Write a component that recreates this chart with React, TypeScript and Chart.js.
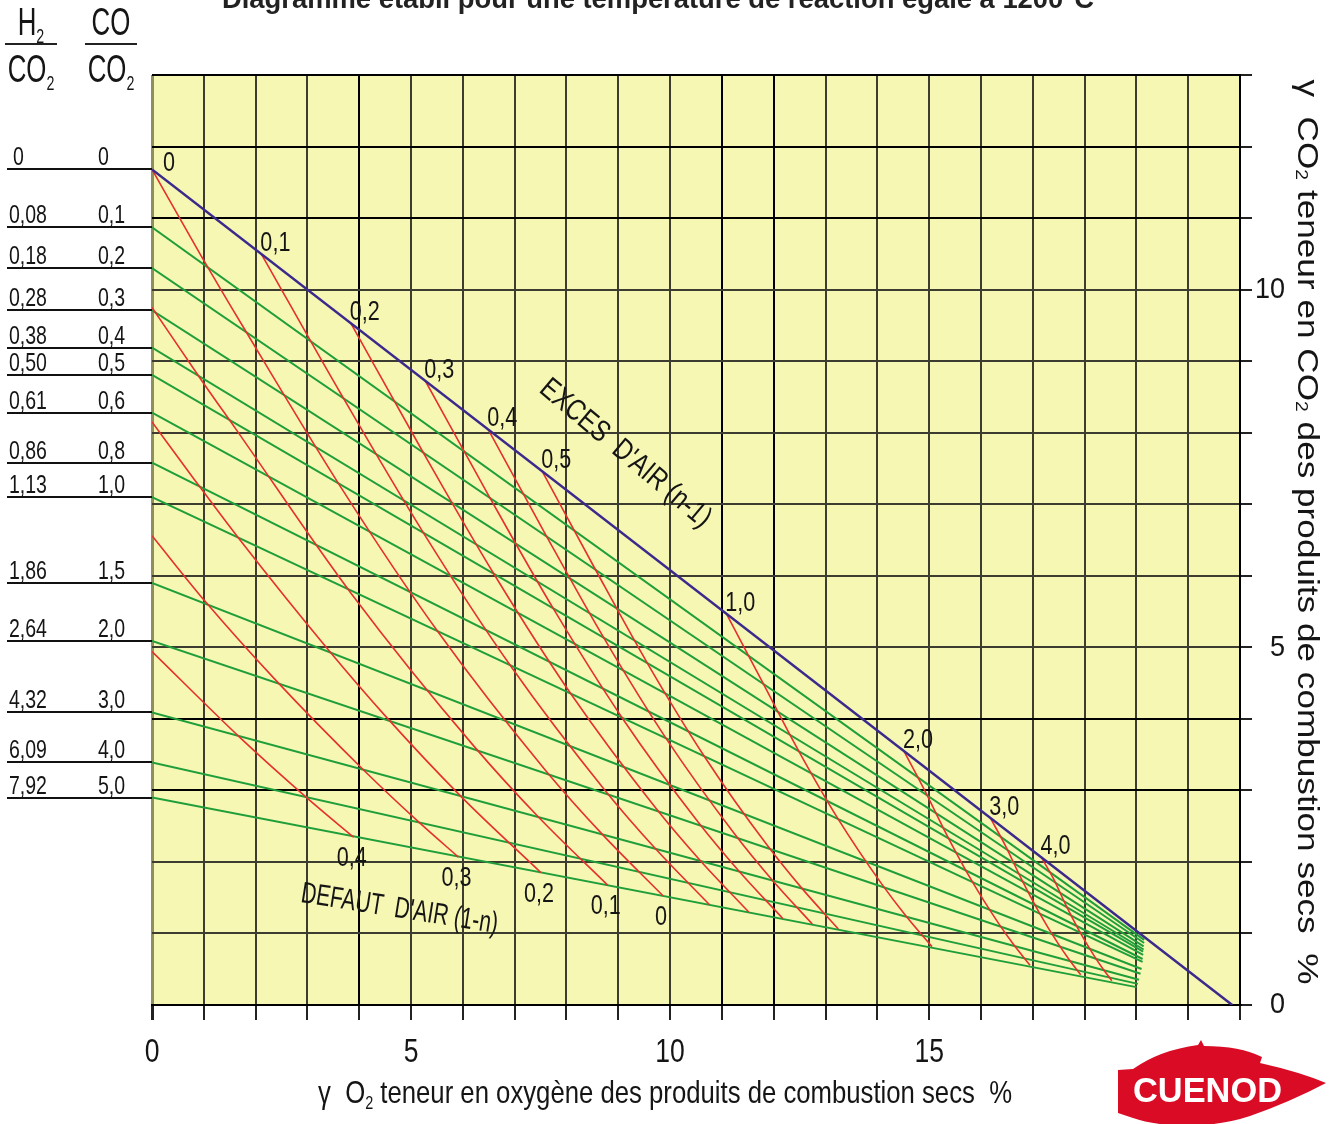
import React, { useEffect, useRef } from "react";
import { Chart, registerables } from "chart.js";

Chart.register(...registerables);

// ---------------- axes ----------------
const xMin = 0;
const xMax = 21;
const yMin = 0;
const yMax = 13;
const xTickLabels = [0, 5, 10, 15];
const yTickLabels = [0, 5, 10];
const darkGridX = [4, 11, 12, 21];
const darkGridY = [0, 3, 4, 11, 12, 13];

// ---------------- iso CO/CO2 ratio lines (index 0 = excess-air line) ----------------
const coCo2Labels = ["0", "0,1", "0,2", "0,3", "0,4", "0,5", "0,6", "0,8", "1,0", "1,5", "2,0", "3,0", "4,0", "5,0"];
const h2Co2Labels = ["0", "0,08", "0,18", "0,28", "0,38", "0,50", "0,61", "0,86", "1,13", "1,86", "2,64", "4,32", "6,09", "7,92"];
const co2AtZeroO2 = [11.68, 10.87, 10.3, 9.71, 9.19, 8.81, 8.28, 7.58, 7.1, 5.9, 5.09, 4.09, 3.39, 2.9];
const ratioEndO2 = [20.85, 19.15, 19.15, 19.14, 19.14, 19.13, 19.13, 19.12, 19.12, 19.1, 19.08, 19.05, 19.03, 19.0];
const ratioEndCO2 = [0, 0.91, 0.866, 0.82, 0.776, 0.745, 0.702, 0.643, 0.602, 0.503, 0.436, 0.352, 0.295, 0.25];

// ---------------- excess air (n-1) red lines ----------------
const excessLabels = ["0,1", "0,2", "0,3", "0,4", "0,5", "1,0", "2,0", "3,0", "4,0"];
const excessO2 = [
  [2.111, 3.664, 5.26, 6.93, 8.749, 9.724, 10.757],
  [3.837, 5.202, 6.612, 8.094, 9.715, 10.589, 11.518],
  [5.274, 6.49, 7.75, 9.079, 10.54, 11.331, 12.174],
  [6.489, 7.584, 8.721, 9.925, 11.253, 11.974, 12.745],
  [7.53, 8.524, 9.56, 10.659, 11.875, 12.537, 13.247],
  [11.086, 11.763, 12.473, 13.233, 14.083, 14.549, 15.055],
  [14.514, 14.921, 15.352, 15.816, 16.34, 16.63, 16.947],
  [16.181, 16.471, 16.778, 17.111, 17.487, 17.697, 17.926],
  [17.167, 17.392, 17.63, 17.889, 18.182, 18.346, 18.525],
];
const excessCO2 = [
  [10.497, 8.52, 6.576, 4.731, 2.996, 2.18, 1.404],
  [9.531, 7.765, 6.011, 4.34, 2.76, 2.013, 1.3],
  [8.726, 7.132, 5.536, 4.009, 2.558, 1.87, 1.21],
  [8.045, 6.594, 5.131, 3.724, 2.384, 1.745, 1.132],
  [7.462, 6.133, 4.78, 3.478, 2.232, 1.637, 1.063],
  [5.47, 4.542, 3.564, 2.613, 1.693, 1.248, 0.816],
  [3.549, 2.99, 2.362, 1.745, 1.141, 0.846, 0.556],
  [2.615, 2.229, 1.766, 1.31, 0.861, 0.64, 0.422],
  [2.063, 1.776, 1.41, 1.048, 0.691, 0.514, 0.34],
];

// ---------------- defect of air (1-n) red lines ----------------
const defectLabels = ["0", "0,1", "0,2", "0,3", "0,4"];
const defectO2 = [
  [0, 0.943, 1.793, 3.628, 5.537, 7.601, 8.702, 9.863],
  [0, 0.968, 1.619, 3.837, 6.217, 7.477, 8.798],
  [0, 0.809, 1.718, 3.386, 4.515, 5.981, 7.508],
  [0, 1.017, 2.369, 4.113, 5.183, 5.914],
  [0, 1.715, 3.012, 3.892],
];
const defectCO2 = [
  [11.68, 10.48, 9.439, 7.257, 5.199, 3.276, 2.378, 1.527],
  [9.75, 8.72, 8.05, 5.76, 3.615, 2.614, 1.673],
  [8.15, 7.354, 6.482, 4.98, 4.031, 2.903, 1.849],
  [6.56, 5.65, 4.555, 3.264, 2.535, 2.068],
  [4.94, 3.727, 2.882, 2.345],
];

// ---------------- texts ----------------
const titleText = "Diagramme établi pour une température de réaction égale à 1200°C";
const xTitle = "γ  O_2 teneur en oxygène des produits de combustion secs  %";
const yTitle = "γ  CO_2 teneur en CO_2 des produits de combustion secs  %";
const excesText = "EXCES  D'AIR (n-1)";
const defautText = "DEFAUT  D'AIR (1-n)";
const excesAnchor = { x: 7.45, y: 8.58 };
const defautAnchor = { x: 2.857, y: 1.44 };

const COND = "'Liberation Sans', Arial, sans-serif";

type TOpts = {
  sx?: number;
  align?: "left" | "center" | "right";
  baseline?: CanvasTextBaseline;
  bold?: boolean;
  color?: string;
  rot?: number;
  fitWidth?: number;
};

function drawRich(ctx: CanvasRenderingContext2D, text: string, x: number, y: number, size: number, o: TOpts = {}) {
  const { sx = 1, align = "left", baseline = "alphabetic", bold = false, color = "#151515", rot = 0, fitWidth } = o;
  const parts = text.split(/_(\d)/);
  ctx.save();
  ctx.translate(x, y);
  if (rot) ctx.rotate(rot);
  const mainFont = `${bold ? "bold " : ""}${size}px ${COND}`;
  const subFont = `${bold ? "bold " : ""}${Math.round(size * 0.55)}px ${COND}`;
  ctx.textBaseline = baseline;
  ctx.textAlign = "left";
  let w = 0;
  parts.forEach((p, i) => {
    ctx.font = i % 2 ? subFont : mainFont;
    w += ctx.measureText(p).width;
  });
  const scaleX = fitWidth ? fitWidth / w : sx;
  ctx.scale(scaleX, 1);
  let cx = align === "center" ? -w / 2 : align === "right" ? -w : 0;
  ctx.fillStyle = color;
  parts.forEach((p, i) => {
    ctx.font = i % 2 ? subFont : mainFont;
    ctx.fillText(p, cx, i % 2 ? size * 0.2 : 0);
    cx += ctx.measureText(p).width;
  });
  ctx.restore();
}

const decoPlugin = {
  id: "deco",
  beforeDraw(chart: any) {
    const { ctx, chartArea: a } = chart;
    ctx.save();
    ctx.fillStyle = "#f7f7b4";
    ctx.fillRect(a.left, a.top, a.right - a.left, a.bottom - a.top);
    ctx.restore();
  },
  afterDraw(chart: any) {
    const ctx: CanvasRenderingContext2D = chart.ctx;
    const a = chart.chartArea;
    const xs = chart.scales.x;
    const ys = chart.scales.y;
    const px = (v: number) => xs.getPixelForValue(v);
    const py = (v: number) => ys.getPixelForValue(v);

    // cut title (only its lower part is visible)
    drawRich(ctx, titleText, 222, 8, 27, { bold: true, fitWidth: 872, color: "#222" });

    // left header fractions
    drawRich(ctx, "H_2", 31, 35, 38, { sx: 0.68, align: "center" });
    drawRich(ctx, "CO_2", 31, 82, 38, { sx: 0.68, align: "center" });
    drawRich(ctx, "CO", 111, 35, 38, { sx: 0.68, align: "center" });
    drawRich(ctx, "CO_2", 111, 82, 38, { sx: 0.68, align: "center" });
    ctx.save();
    ctx.strokeStyle = "#222";
    ctx.lineWidth = 2;
    ctx.beginPath();
    ctx.moveTo(5, 44);
    ctx.lineTo(57, 44);
    ctx.moveTo(85, 44);
    ctx.lineTo(137, 44);
    ctx.stroke();
    ctx.restore();

    // left ratio lines + labels
    ctx.save();
    ctx.strokeStyle = "#111";
    ctx.lineWidth = 2;
    co2AtZeroO2.forEach((v) => {
      const y = Math.round(py(v));
      ctx.beginPath();
      ctx.moveTo(7, y);
      ctx.lineTo(a.left, y);
      ctx.stroke();
    });
    ctx.restore();
    co2AtZeroO2.forEach((v, i) => {
      const y = py(v);
      drawRich(ctx, h2Co2Labels[i], i === 0 ? 13 : 9, y - 4, 25, { sx: 0.78 });
      drawRich(ctx, coCo2Labels[i], 98, y - 4, 25, { sx: 0.78 });
    });

    // axis tick labels
    xTickLabels.forEach((v) => drawRich(ctx, String(v), px(v), a.bottom + 57, 34, { sx: 0.78, align: "center" }));
    yTickLabels.forEach((v) => drawRich(ctx, String(v), 1285, py(v), 30, { sx: 0.9, align: "right", baseline: "middle" }));

    // axis titles
    drawRich(ctx, xTitle, 665, 1103, 32, { fitWidth: 694, align: "center" });
    drawRich(ctx, yTitle, 1306, 532, 29, { fitWidth: 905, align: "center", baseline: "middle", rot: Math.PI / 2 });

    // in-plot labels
    drawRich(ctx, "0", px(0) + 11, py(co2AtZeroO2[0]) + 2, 27, { sx: 0.8 });
    excessLabels.forEach((l, i) => {
      drawRich(ctx, l, px(excessO2[i][0]) - 1, py(excessCO2[i][0]) - 3, 27, { sx: 0.8 });
    });
    defectLabels.forEach((l, i) => {
      const n = defectO2[i].length - 1;
      drawRich(ctx, l, px(defectO2[i][n]) - 2, py(defectCO2[i][n]) + 8, 27, { sx: 0.8, align: "center", baseline: "top" });
    });
    drawRich(ctx, excesText, px(excesAnchor.x), py(excesAnchor.y), 30, { sx: 0.8, rot: (40 * Math.PI) / 180 });
    drawRich(ctx, defautText, px(defautAnchor.x), py(defautAnchor.y), 30, { sx: 0.7, rot: (9 * Math.PI) / 180 });

    // logo
    ctx.save();
    ctx.fillStyle = "#d90b25";
    ctx.beginPath();
    ctx.moveTo(1118, 1070);
    ctx.lineTo(1133, 1069);
    ctx.quadraticCurveTo(1160, 1050, 1198, 1045);
    ctx.lineTo(1201, 1040);
    ctx.lineTo(1204, 1046);
    ctx.quadraticCurveTo(1240, 1046, 1262, 1057);
    ctx.lineTo(1260, 1063);
    ctx.quadraticCurveTo(1300, 1072, 1326, 1083);
    ctx.quadraticCurveTo(1290, 1102, 1250, 1116);
    ctx.quadraticCurveTo(1220, 1126, 1180, 1126);
    ctx.quadraticCurveTo(1150, 1124, 1133, 1118);
    ctx.lineTo(1118, 1113);
    ctx.closePath();
    ctx.fill();
    ctx.restore();
    drawRich(ctx, "CUENOD", 1133, 1102, 35, { bold: true, color: "#ffffff", fitWidth: 149 });
  },
};

export default function App() {
  const ref = useRef<HTMLCanvasElement | null>(null);

  useEffect(() => {
    document.body.style.margin = "0";
    const canvas = ref.current;
    if (!canvas) return;

    const datasets: any[] = [];
    // excess-air boundary (CO/CO2 = 0)
    datasets.push({
      data: [
        { x: 0, y: co2AtZeroO2[0] },
        { x: ratioEndO2[0], y: ratioEndCO2[0] },
      ],
      borderColor: "#3b2a8c",
      borderWidth: 2.5,
      order: 0,
    });
    for (let i = 1; i < co2AtZeroO2.length; i++) {
      datasets.push({
        data: [
          { x: 0, y: co2AtZeroO2[i] },
          { x: ratioEndO2[i], y: ratioEndCO2[i] },
        ],
        borderColor: "#1f9e3a",
        borderWidth: 2,
        order: 2,
      });
    }
    excessO2.forEach((row, i) => {
      datasets.push({
        data: row.map((x, j) => ({ x, y: excessCO2[i][j] })),
        borderColor: "#e5302c",
        borderWidth: 1.6,
        cubicInterpolationMode: "monotone",
        order: 1,
      });
    });
    defectO2.forEach((row, i) => {
      datasets.push({
        data: row.map((x, j) => ({ x, y: defectCO2[i][j] })),
        borderColor: "#e5302c",
        borderWidth: 1.6,
        cubicInterpolationMode: "monotone",
        order: 1,
      });
    });
    datasets.forEach((d) => {
      d.showLine = true;
      d.pointRadius = 0;
      d.fill = false;
    });

    const chart = new Chart(canvas, {
      type: "scatter",
      data: { datasets },
      options: {
        animation: false,
        responsive: false,
        events: [],
        layout: { padding: { left: 152, top: 75, right: 0, bottom: 0 } },
        plugins: { legend: { display: false }, tooltip: { enabled: false } },
        scales: {
          x: {
            type: "linear",
            position: "bottom",
            min: xMin,
            max: xMax,
            ticks: { stepSize: 1, display: false },
            grid: {
              color: (c: any) => (c.tick && c.tick.value === 0 ? "#8f8f5e" : darkGridX.includes(c.tick?.value) ? "#000" : "#3c3c30"),
              lineWidth: (c: any) => (c.tick && c.tick.value === 0 ? 3 : 2),
              drawTicks: true,
              tickLength: 15,
              tickColor: "#222",
            },
            border: { display: true, color: "#000", width: 2 },
            afterFit: (s: any) => {
              s.height = 119;
            },
          },
          y: {
            type: "linear",
            position: "right",
            min: yMin,
            max: yMax,
            ticks: { stepSize: 1, display: false },
            grid: {
              color: (c: any) => (darkGridY.includes(c.tick?.value) ? "#000" : "#3c3c30"),
              lineWidth: 2,
              drawTicks: true,
              tickLength: 12,
              tickColor: "#222",
            },
            border: { display: true, color: "#000", width: 2 },
            afterFit: (s: any) => {
              s.width = 94;
            },
          },
        },
      },
      plugins: [decoPlugin],
    } as any);

    return () => chart.destroy();
  }, []);

  return (
    <div style={{ width: 1334, height: 1124, position: "relative" }}>
      <canvas ref={ref} width={1334} height={1124} style={{ display: "block" }} />
    </div>
  );
}
